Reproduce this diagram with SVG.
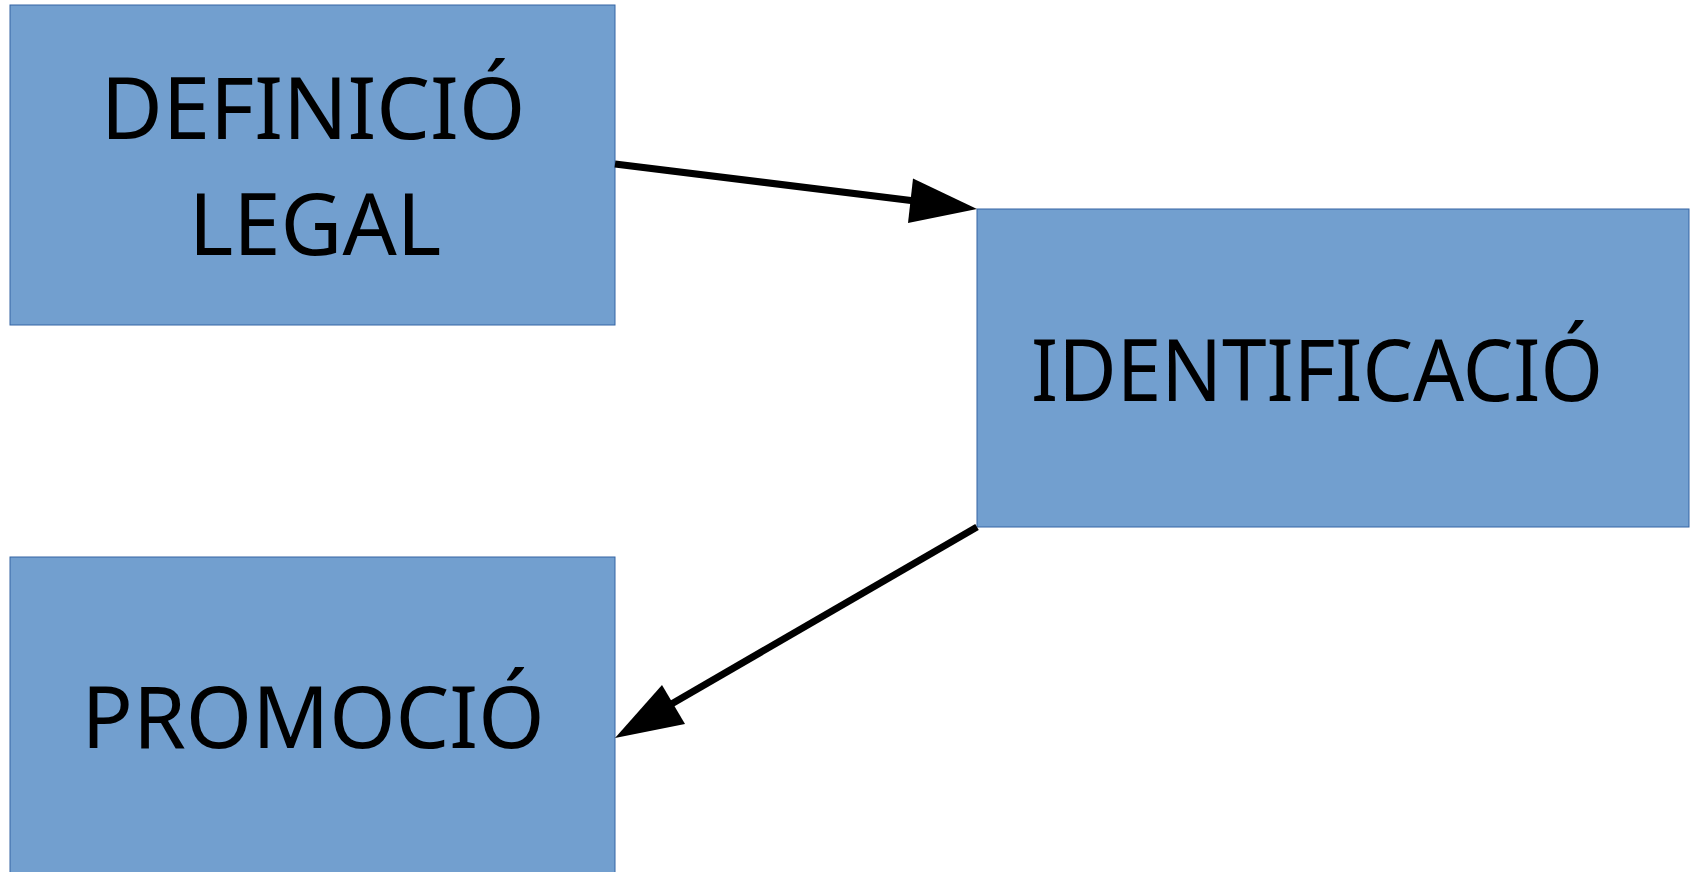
<svg xmlns="http://www.w3.org/2000/svg" width="1696" height="872" viewBox="0 0 1696 872">
<style>
.box{fill:#729fcf;stroke:#3465a4;stroke-width:1}
.lbl{font-family:"Noto Sans","Open Sans",sans-serif;font-size:85px;fill:#000;text-anchor:middle}
.conn{stroke:#000;stroke-width:7;fill:none}
.head{fill:#000}
</style>
<rect width="1696" height="872" fill="#fff"/>
<g id="node-definicio">
<rect class="box" x="10" y="5" width="605" height="320"/>
<text class="lbl" x="313" y="138.5">DEFINICIÓ</text>
<text class="lbl" x="315" y="255">LEGAL</text>
</g>
<g id="node-identificacio">
<rect class="box" x="977" y="209" width="712" height="318"/>
<text class="lbl" x="1317" y="400.5" textLength="572" lengthAdjust="spacingAndGlyphs">IDENTIFICACIÓ</text>
</g>
<g id="node-promocio">
<rect class="box" x="10" y="557" width="605" height="330"/>
<text class="lbl" x="313" y="747.5">PROMOCIÓ</text>
</g>
<g id="connectors">
<line class="conn" x1="615" y1="164" x2="915" y2="201"/>
<polygon class="head" points="977,209 913,178.5 908,223"/>
<line class="conn" x1="977" y1="527" x2="668" y2="706"/>
<polygon class="head" points="615,738 662,685 685,724"/>
</g>
</svg>
